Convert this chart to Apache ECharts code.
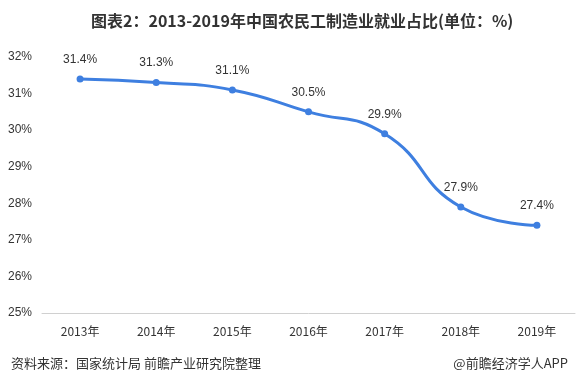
<!DOCTYPE html>
<html><head><meta charset="utf-8">
<script src="https://cdn.jsdelivr.net/npm/echarts@6/dist/echarts.min.js"></script>
<style>html,body{margin:0;padding:0;background:#fff}#c{width:577px;height:383px}</style>
</head><body><div id="c"></div>
<script>
const categories = ['2013年','2014年','2015年','2016年','2017年','2018年','2019年'];
const values = [31.4, 31.3, 31.1, 30.5, 29.9, 27.9, 27.4];
const chart = echarts.init(document.getElementById('c'));
chart.setOption({
  animation: false,
  title: [{
    text: '图表2：2013-2019年中国农民工制造业就业占比(单位：%)',
    left: 86, top: 8,
    textStyle: {fontSize: 16, fontWeight: 'bold', color: '#333', fontFamily: 'Noto Sans CJK SC'}
  },{
    text: '资料来源：国家统计局 前瞻产业研究院整理',
    left: 6, top: 352,
    textStyle: {fontSize: 13, fontWeight: 'normal', color: '#333', fontFamily: 'Noto Sans CJK SC'}
  },{
    text: '@前瞻经济学人APP',
    right: 4, top: 352,
    textStyle: {fontSize: 13, fontWeight: 'normal', color: '#333', fontFamily: 'Noto Sans CJK SC'}
  }],
  grid: {left: 42, right: 2, top: 57, bottom: 70},
  xAxis: {
    type: 'category', data: categories, boundaryGap: true,
    axisLine: {lineStyle: {color: '#d0d0d0'}},
    axisTick: {show: false},
    axisLabel: {color: '#333', fontSize: 12, margin: 12, fontFamily: 'Noto Sans CJK SC'}
  },
  yAxis: {
    type: 'value', min: 25, max: 32, interval: 1,
    axisLine: {show: false}, axisTick: {show: false},
    splitLine: {show: false},
    axisLabel: {color: '#333', fontSize: 12, margin: 10, formatter: '{value}%', fontFamily: 'Liberation Sans'}
  },
  series: [{
    type: 'line', data: values, smooth: true,
    symbol: 'circle', symbolSize: 7,
    lineStyle: {color: '#3e7fe0', width: 3},
    itemStyle: {color: '#3e7fe0'},
    label: {show: true, position: 'top', distance: 10, color: '#333', fontSize: 12,
      fontFamily: 'Liberation Sans', formatter: p => p.value.toFixed(1) + '%'}
  }]
});
</script></body></html>
